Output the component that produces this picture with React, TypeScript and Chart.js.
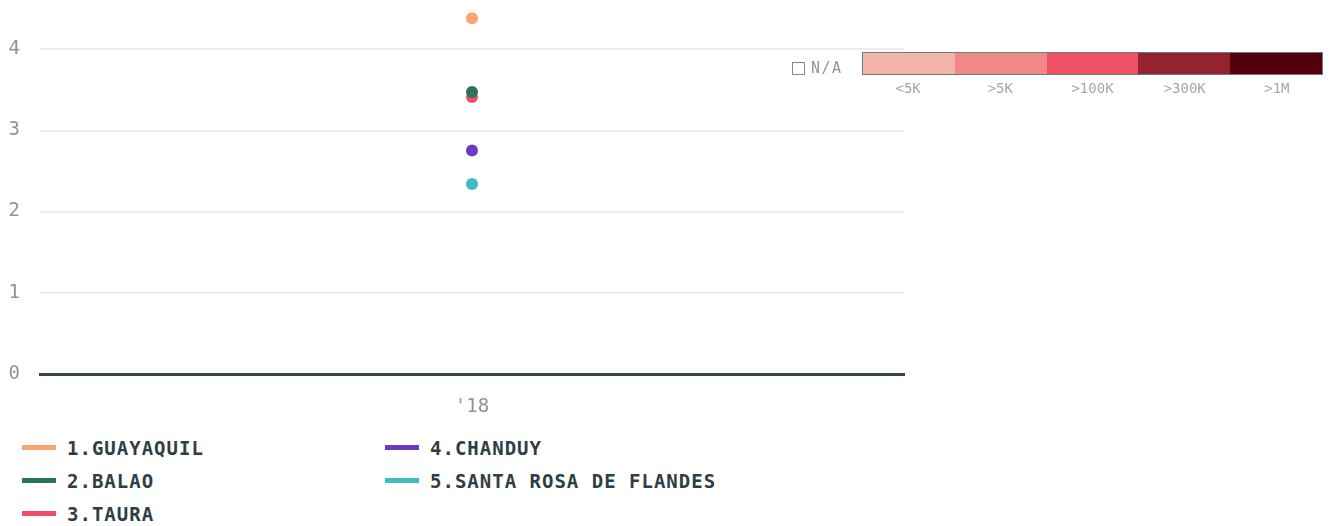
import React, { useEffect, useRef } from "react";
import { Chart, registerables } from "chart.js";

Chart.register(...registerables);

const categories = ["'18"];
const seriesNames = ["1.GUAYAQUIL", "2.BALAO", "3.TAURA", "4.CHANDUY", "5.SANTA ROSA DE FLANDES"];
const seriesColors = ["#ffa36e", "#2e7258", "#ef4e66", "#6a3cc6", "#3dbdbf"];
const guayaquil = [4.38];
const balao = [3.47];
const taura = [3.41];
const chanduy = [2.75];
const santaRosa = [2.34];
const seriesValues = [guayaquil, balao, taura, chanduy, santaRosa];
const yTicks = [0, 1, 2, 3, 4];
const heatLabels = ["<5K", ">5K", ">100K", ">300K", ">1M"];
const heatColors = ["#f4b6ab", "#f08888", "#ef5064", "#952230", "#52000a"];

const tickFont = { family: "'DejaVu Sans Mono', monospace", size: 19 };
const tickColor = "#8c969a";

export default function App() {
  const ref = useRef<HTMLCanvasElement | null>(null);

  useEffect(() => {
    if (!ref.current) return;
    const chart = new Chart(ref.current, {
      type: "line",
      data: {
        labels: categories,
        datasets: seriesNames.map((name, i) => ({
          label: name,
          data: seriesValues[i],
          borderColor: seriesColors[i],
          backgroundColor: seriesColors[i],
          pointBackgroundColor: seriesColors[i],
          pointBorderColor: seriesColors[i],
          pointRadius: 6,
          pointBorderWidth: 0,
          showLine: false,
        })),
      },
      options: {
        animation: false,
        responsive: false,
        maintainAspectRatio: false,
        layout: { padding: { top: 7, right: 5, left: 0, bottom: 0 } },
        plugins: { legend: { display: false }, tooltip: { enabled: false } },
        scales: {
          x: {
            offset: true,
            grid: { display: false, drawTicks: false },
            border: { display: true, color: "#37474f", width: 3 },
            ticks: { color: tickColor, font: tickFont, padding: 22 },
            afterFit: (s: any) => {
              s.height = 46;
            },
          },
          y: {
            min: 0,
            max: 4.5,
            grid: { color: "#e8e8e8", lineWidth: 1.5, drawTicks: false },
            border: { display: false },
            ticks: { color: tickColor, font: tickFont, padding: 20, stepSize: 1 },
            afterBuildTicks: (s: any) => {
              s.ticks = yTicks.map((v) => ({ value: v }));
            },
            afterFit: (s: any) => {
              s.width = 40;
            },
          },
        },
      },
    });
    return () => chart.destroy();
  }, []);

  const legendFont = "'DejaVu Sans Mono', monospace";
  const rows = [
    [0, 3],
    [1, 4],
    [2, -1],
  ];

  return (
    <div style={{ position: "fixed", left: 0, top: 0, width: 1330, height: 526, background: "#fff", overflow: "hidden" }}>
      <canvas ref={ref} width={910} height={443} style={{ position: "absolute", left: 0, top: -23, width: 910, height: 443 }} />
      {/* N/A */}
      <div style={{ position: "absolute", left: 792, top: 62, width: 11, height: 11, border: "1.5px solid #7d8a8f" }} />
      <div style={{ position: "absolute", left: 811, top: 58, fontFamily: legendFont, fontSize: 15, color: "#8c969a", letterSpacing: 1.5, lineHeight: "20px" }}>N/A</div>
      {/* heat legend */}
      <div style={{ position: "absolute", left: 862, top: 52, width: 459, height: 21, border: "1px solid #6b7b80", display: "flex" }}>
        {heatColors.map((c, i) => (
          <div key={i} style={{ flex: 1, background: c }} />
        ))}
      </div>
      <div style={{ position: "absolute", left: 862, top: 78, width: 461, display: "flex" }}>
        {heatLabels.map((l, i) => (
          <div key={i} style={{ flex: 1, textAlign: "center", fontFamily: legendFont, fontSize: 14, color: "#a0a8ab", lineHeight: "20px" }}>{l}</div>
        ))}
      </div>
      {/* series legend */}
      {rows.map((r, ri) =>
        r.map((si, ci) =>
          si < 0 ? null : (
            <div key={`${ri}-${ci}`} style={{ position: "absolute", left: ci === 0 ? 22 : 385, top: 431 + ri * 33, height: 33, display: "flex", alignItems: "center" }}>
              <div style={{ width: 34, height: 5, background: seriesColors[si], marginRight: 11 }} />
              <span style={{ fontFamily: legendFont, fontWeight: "bold", fontSize: 19, letterSpacing: 1, color: "#2f3e46", whiteSpace: "nowrap" }}>{seriesNames[si]}</span>
            </div>
          )
        )
      )}
    </div>
  );
}
